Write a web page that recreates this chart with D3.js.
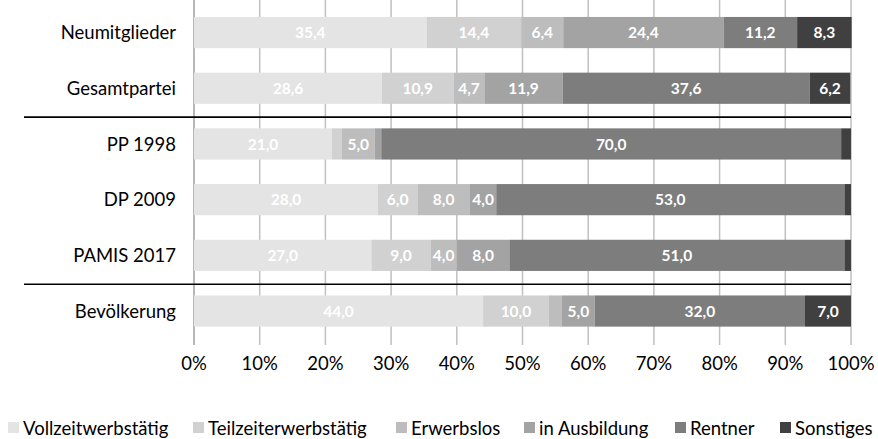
<!DOCTYPE html>
<html><head><meta charset="utf-8">
<script src="https://cdn.jsdelivr.net/npm/d3@7"></script>
<style>body{margin:0;background:#fff;}svg{display:block;font-family:Lato,"Open Sans",sans-serif;}</style>
</head><body>
<svg id="c" width="878" height="439"></svg>
<script>
const categories = ["Neumitglieder","Gesamtpartei","PP 1998","DP 2009","PAMIS 2017","Bevölkerung"];
const seriesNames = ["Vollzeitwerbstätig","Teilzeiterwerbstätig","Erwerbslos","in Ausbildung","Rentner","Sonstiges"];
const vollzeit   = [35.4, 28.6, 21.0, 28.0, 27.0, 44.0];
const teilzeit   = [14.4, 10.9, 1.5, 6.0, 9.0, 10.0];
const erwerbslos = [6.4, 4.7, 5.0, 8.0, 4.0, 2.0];
const ausbildung = [24.4, 11.9, 1.0, 4.0, 8.0, 5.0];
const rentner    = [11.2, 37.6, 70.0, 53.0, 51.0, 32.0];
const sonstiges  = [8.3, 6.2, 1.5, 1.0, 1.0, 7.0];
const tickValues = [0,10,20,30,40,50,60,70,80,90,100];
const colors = ["#e4e4e4","#d1d1d1","#bdbdbd","#a3a3a3","#7d7d7d","#404040"];

const seriesVals = [vollzeit, teilzeit, erwerbslos, ausbildung, rentner, sonstiges];
const rows = categories.map((c,i)=>{const o={cat:c}; seriesNames.forEach((s,j)=>o[s]=seriesVals[j][i]); return o;});
const stacked = d3.stack().keys(seriesNames)(rows);

const svg = d3.select("#c");
const x = d3.scaleLinear().domain([0,100]).range([194,851]);
const y = d3.scaleBand().domain(categories).range([4.7,338.9]).paddingInner(0.44).paddingOuter(0.22);

// gridlines
svg.append("g").selectAll("line").data(tickValues).join("line")
  .attr("x1",d=>x(d)).attr("x2",d=>x(d)).attr("y1",0).attr("y2",345)
  .attr("stroke",d=>d===0?"#a0a0a0":"#c0c0c0").attr("stroke-width",1.5);

// bars
const g = svg.append("g");
stacked.forEach((layer,j)=>{
  g.append("g").attr("fill",colors[j]).selectAll("rect").data(layer).join("rect")
    .attr("x",d=>x(d[0])).attr("width",d=>x(d[1])-x(d[0]))
    .attr("y",d=>y(d.data.cat)).attr("height",y.bandwidth());
  g.append("g").selectAll("text").data(layer.filter(d=>d[1]-d[0]>=3)).join("text")
    .attr("x",d=>(x(d[0])+x(d[1]))/2).attr("y",d=>y(d.data.cat)+y.bandwidth()/2)
    .attr("dy","0.36em").attr("text-anchor","middle")
    .attr("fill","#fff").attr("font-weight","bold").attr("font-size","15.5px")
    .text(d=>d3.format(".1f")(d[1]-d[0]).replace(".",","));
});

// separator lines
[["Gesamtpartei","PP 1998"],["PAMIS 2017","Bevölkerung"]].forEach(([a,b])=>{
  const yy = (y(a)+y.bandwidth()+y(b))/2+1;
  svg.append("line").attr("x1",24).attr("x2",851).attr("y1",yy).attr("y2",yy)
    .attr("stroke","#000").attr("stroke-width",1.6);
});

// category labels
svg.append("g").selectAll("text").data(categories).join("text")
  .attr("x",176).attr("y",d=>y(d)+y.bandwidth()/2).attr("dy","0.36em")
  .attr("text-anchor","end").attr("font-size","18.5px").attr("fill","#000").text(d=>d);

// x tick labels
svg.append("g").selectAll("text").data(tickValues).join("text")
  .attr("x",d=>x(d)).attr("y",363).attr("dy","0.36em").attr("text-anchor","middle")
  .attr("font-size","18.5px").attr("fill","#000").text(d=>d+"%");

// legend
const legX = [8,193,396,524,675,780];
const lg = svg.append("g").selectAll("g").data(seriesNames).join("g")
  .attr("transform",(d,i)=>`translate(${legX[i]},428)`);
lg.append("rect").attr("x",0).attr("y",-6).attr("width",11).attr("height",11).attr("fill",(d,i)=>colors[i]);
lg.append("text").attr("x",15).attr("dy","0.36em").attr("font-size","18.5px").attr("fill","#000").text(d=>d);
</script>
</body></html>
